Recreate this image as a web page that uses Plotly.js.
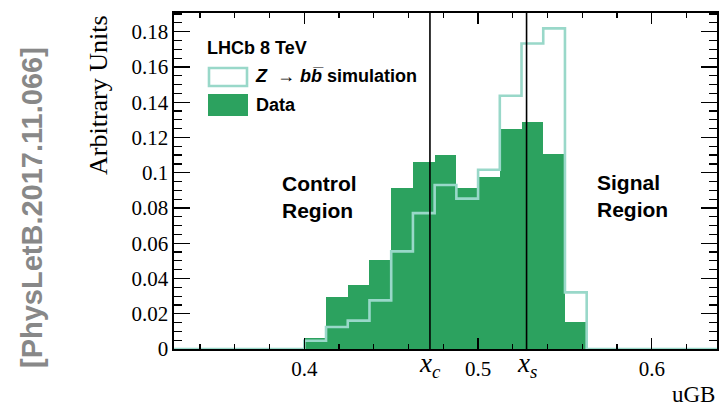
<!DOCTYPE html>
<html>
<head>
<meta charset="utf-8">
<script src="https://cdn.plot.ly/plotly-3.0.1.min.js"></script>
<style>html,body{margin:0;padding:0;background:#fff;}#chart{width:720px;height:408px;}</style>
</head>
<body>
<div id="chart"></div>
<script>
// uGB bin edges (bin width 0.0125)
const binEdges = [0.4, 0.4125, 0.425, 0.4375, 0.45, 0.4625, 0.475, 0.4875, 0.5, 0.5125, 0.525, 0.5375, 0.55, 0.5625];
// Data histogram (arbitrary units)
const dataValues = [0.0062, 0.0293, 0.0361, 0.0507, 0.0911, 0.1058, 0.1102, 0.0911, 0.0976, 0.1246, 0.1288, 0.1109, 0.0153];
// Z -> bb simulation histogram (arbitrary units)
const simValues = [0.0047, 0.0125, 0.0161, 0.0276, 0.0554, 0.0771, 0.0930, 0.0853, 0.1017, 0.1437, 0.1733, 0.1819, 0.0321];
// histogram full range
const histRange = [0.325, 0.6375];
// region boundaries
const xc = 0.4723;
const xs = 0.5279;
const xTickVals = [0.4, 0.5, 0.6];

const dataColor = '#2ca25f';
const simColor = '#99d8c9';

const centers = dataValues.map((v, i) => (binEdges[i] + binEdges[i + 1]) / 2);
const widths = dataValues.map((v, i) => binEdges[i + 1] - binEdges[i]);

// step outline for simulation
const simX = [histRange[0]].concat(binEdges.slice(0, simValues.length), [binEdges[binEdges.length - 1], histRange[1]]);
const simY = [0].concat(simValues, [0, 0]);

const traces = [
  {
    type: 'bar', x: centers, y: dataValues, width: widths,
    marker: {color: dataColor, line: {width: 0}},
    hoverinfo: 'skip', showlegend: false
  },
  {
    type: 'scatter', mode: 'lines', x: simX, y: simY,
    line: {shape: 'hv', color: simColor, width: 2.6},
    hoverinfo: 'skip', showlegend: false
  }
];

const serif = 'Liberation Serif, Times New Roman, serif';
const sans = 'Liberation Sans, Arial, sans-serif';

const layout = {
  width: 720, height: 408,
  margin: {l: 174, r: 3, t: 13, b: 59},
  paper_bgcolor: '#fff', plot_bgcolor: '#fff',
  bargap: 0,
  showlegend: false,
  xaxis: {
    range: histRange, tickmode: 'array', tickvals: xTickVals, ticktext: xTickVals.map(String),
    ticks: 'inside', ticklen: 11, tickwidth: 1.3, tickcolor: '#000',
    minor: {tickmode: 'linear', tick0: 0.4, dtick: 0.02, ticks: 'inside', ticklen: 5, tickwidth: 1.2, tickcolor: '#000'},
    showline: true, linecolor: '#000', linewidth: 1.6, mirror: 'allticks',
    showgrid: false, zeroline: false,
    tickfont: {family: serif, size: 21, color: '#000'}
  },
  yaxis: {
    range: [0, 0.1906], tick0: 0, dtick: 0.02,
    ticks: 'inside', ticklen: 16, tickwidth: 1.3, tickcolor: '#000',
    minor: {dtick: 0.005, ticks: 'inside', ticklen: 8, tickwidth: 1.2, tickcolor: '#000'},
    showline: true, linecolor: '#000', linewidth: 1.6, mirror: 'allticks',
    showgrid: false, zeroline: false,
    tickfont: {family: serif, size: 21, color: '#000'}
  },
  shapes: [
    {type: 'line', xref: 'x', yref: 'paper', x0: xc, x1: xc, y0: 0, y1: 1, line: {color: '#000', width: 1.6}},
    {type: 'line', xref: 'x', yref: 'paper', x0: xs, x1: xs, y0: 0, y1: 1, line: {color: '#000', width: 1.6}},
    // legend boxes
    {type: 'rect', xref: 'paper', yref: 'paper', x0: (209 - 174) / 543, x1: (247 - 174) / 543, y0: (349 - 86) / 336, y1: (349 - 68) / 336,
     line: {color: simColor, width: 2.6}, fillcolor: '#fff'},
    {type: 'rect', xref: 'paper', yref: 'paper', x0: (208 - 174) / 543, x1: (248 - 174) / 543, y0: (349 - 116) / 336, y1: (349 - 94) / 336,
     line: {color: dataColor, width: 0}, fillcolor: dataColor}
  ],
  annotations: [
    {xref: 'paper', yref: 'paper', x: (205 - 174) / 543, y: (349 - 48) / 336, xanchor: 'left', yanchor: 'middle', showarrow: false,
     text: '<b>LHCb 8 TeV</b>', font: {family: sans, size: 18, color: '#000'}},
    {xref: 'paper', yref: 'paper', x: (253 - 174) / 543, y: (349 - 76) / 336, xanchor: 'left', yanchor: 'middle', showarrow: false,
     text: '<b><i>Z</i></b>  \u2192 <b><i>b</i></b><b><i>b\u0305</i> simulation</b>', font: {family: sans, size: 18, color: '#000'}},
    {xref: 'paper', yref: 'paper', x: (254 - 174) / 543, y: (349 - 105) / 336, xanchor: 'left', yanchor: 'middle', showarrow: false,
     text: '<b>Data</b>', font: {family: sans, size: 18, color: '#000'}},
    {xref: 'paper', yref: 'paper', x: (280 - 174) / 543, y: (349 - 197) / 336, xanchor: 'left', yanchor: 'middle', showarrow: false, align: 'left',
     text: '<b>Control<br>Region</b>', font: {family: sans, size: 21, color: '#000'}},
    {xref: 'paper', yref: 'paper', x: (595 - 174) / 543, y: (349 - 196) / 336, xanchor: 'left', yanchor: 'middle', showarrow: false, align: 'left',
     text: '<b>Signal<br>Region</b>', font: {family: sans, size: 21, color: '#000'}},
    {xref: 'x', yref: 'paper', x: xc, y: 0.008, xanchor: 'center', yanchor: 'top', showarrow: false,
     text: '<i>x<sub>c</sub></i>', font: {family: serif, size: 27, color: '#000'}},
    {xref: 'x', yref: 'paper', x: xs, y: 0.008, xanchor: 'center', yanchor: 'top', showarrow: false,
     text: '<i>x<sub>s</sub></i>', font: {family: serif, size: 27, color: '#000'}},
    {xref: 'paper', yref: 'paper', x: 1.0, y: (349 - 380) / 336, xanchor: 'right', yanchor: 'top', showarrow: false,
     text: 'uGB', font: {family: serif, size: 23, color: '#000'}},
    {xref: 'paper', yref: 'paper', x: (98 - 174) / 543, y: (349 - 95) / 336, xanchor: 'center', yanchor: 'middle', showarrow: false, textangle: -90,
     text: 'Arbitrary Units', font: {family: serif, size: 26, color: '#000'}},
    {xref: 'paper', yref: 'paper', x: (32 - 174) / 543, y: (349 - 208) / 336, xanchor: 'center', yanchor: 'middle', showarrow: false, textangle: -90,
     text: '<b>[PhysLetB.2017.11.066]</b>', font: {family: sans, size: 29, color: '#888888'}}
  ]
};

Plotly.newPlot('chart', traces, layout, {staticPlot: true, displayModeBar: false});
</script>
</body>
</html>
